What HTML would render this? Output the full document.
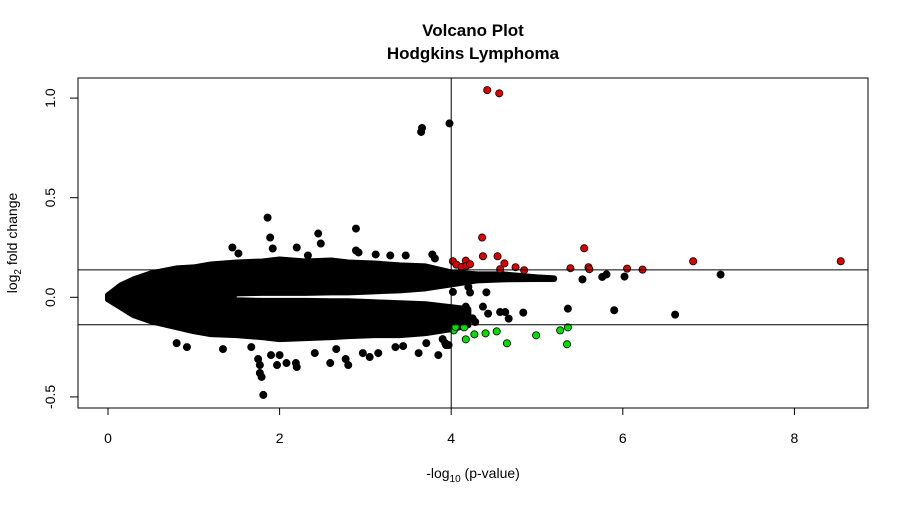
<!DOCTYPE html>
<html><head><meta charset="utf-8"><style>
html,body{margin:0;padding:0;background:#fff;}
svg{display:block;font-family:"Liberation Sans",Arial,sans-serif;}
</style></head><body>
<svg id="chart" width="910" height="506" viewBox="0 0 910 506">
<text x="473" y="36" text-anchor="middle" font-weight="bold" font-size="17">Volcano Plot</text>
<text x="473" y="59" text-anchor="middle" font-weight="bold" font-size="17">Hodgkins Lymphoma</text>
<rect x="78" y="78" width="790" height="330" fill="none" stroke="#000" stroke-width="1"/>
<g id="bands"></g>
<g id="pts"></g>
<g id="refs"></g>
<g id="xaxis"></g>
<g id="yaxis"></g>
<text x="473" y="478" text-anchor="middle" font-size="14">-log<tspan font-size="10" dy="4">10</tspan><tspan dy="-4"> (p-value)</tspan></text>
<text transform="translate(17,243) rotate(-90)" text-anchor="middle" font-size="14">log<tspan font-size="10" dy="4">2</tspan><tspan dy="-4"> fold change</tspan></text>
</svg>
<script>
// dense cloud envelopes
const upperX = [0,0.15,0.3,0.5,0.8,1.0,1.2,1.5,1.8,2.0,2.3,2.6,2.8,3.1,3.4,3.7,4.0,4.3,4.6,5.0,5.2];
const upperTop = [0.01,0.06,0.09,0.12,0.145,0.15,0.165,0.175,0.18,0.19,0.18,0.185,0.175,0.17,0.16,0.155,0.125,0.115,0.115,0.1,0.095];
const upperBot = [-0.01,-0.04,-0.05,-0.07,-0.08,-0.07,-0.05,0.02,0.022,0.022,0.022,0.025,0.025,0.03,0.035,0.045,0.065,0.085,0.09,0.092,0.092];
const lowerX = [0,0.15,0.3,0.5,0.8,1.0,1.2,1.5,1.8,2.0,2.3,2.6,2.8,3.1,3.4,3.7,4.0,4.2];
const lowerTop = [0.01,0.03,0.04,0.05,0.06,0.05,0.03,-0.015,-0.018,-0.018,-0.018,-0.02,-0.02,-0.025,-0.03,-0.035,-0.05,-0.06];
const lowerBot = [-0.01,-0.05,-0.09,-0.12,-0.15,-0.17,-0.185,-0.19,-0.2,-0.21,-0.205,-0.2,-0.195,-0.19,-0.19,-0.18,-0.16,-0.14];
// individual points
const blackX = [1.86,1.89,1.92,2.45,2.48,2.89,1.45,1.52,2.2,2.89,2.92,3.12,3.29,3.47,3.78,3.81,2.33,
 1.81,1.75,1.77,1.77,1.79,1.97,2.08,2.19,2.2,2.0,1.9,2.41,2.59,2.77,2.8,2.66,2.97,3.05,3.15,3.62,3.85,3.71,0.8,0.92,1.34,1.67,3.35,3.44,3.94,3.97,
 3.98,3.66,3.65,5.53,5.76,5.81,6.02,7.14,5.36,5.9,6.61,4.17,4.37,4.43,4.57,4.63,4.67,4.84,4.41,4.2,4.22,4.02,4.14,4.25,4.28,3.9,3.93];
const blackY = [0.40,0.30,0.245,0.32,0.27,0.345,0.25,0.22,0.25,0.235,0.225,0.215,0.21,0.21,0.215,0.195,0.21,
 -0.49,-0.31,-0.34,-0.38,-0.40,-0.34,-0.33,-0.33,-0.35,-0.29,-0.29,-0.28,-0.33,-0.31,-0.34,-0.26,-0.28,-0.30,-0.28,-0.28,-0.29,-0.23,-0.23,-0.25,-0.26,-0.25,-0.25,-0.245,-0.24,-0.24,
 0.873,0.85,0.83,0.09,0.102,0.115,0.104,0.114,-0.057,-0.065,-0.087,-0.047,-0.047,-0.082,-0.074,-0.074,-0.107,-0.077,0.025,0.052,0.024,0.027,-0.106,-0.106,-0.124,-0.21,-0.23];
const redX = [4.42,4.56,4.36,4.37,4.54,4.02,4.06,4.12,4.17,4.18,4.22,4.62,4.57,4.75,4.85,5.39,5.55,5.6,5.61,6.05,6.23,6.82,8.54];
const redY = [1.04,1.024,0.30,0.206,0.206,0.181,0.164,0.152,0.184,0.159,0.166,0.17,0.141,0.151,0.136,0.146,0.246,0.151,0.141,0.144,0.139,0.181,0.181];
const greenX = [4.03,4.05,4.15,4.17,4.27,4.4,4.53,4.65,4.99,5.27,5.36,5.35];
const greenY = [-0.166,-0.149,-0.151,-0.211,-0.186,-0.181,-0.171,-0.231,-0.191,-0.166,-0.151,-0.236];
const xTicks = [0,2,4,6,8];
const yTicks = [-0.5,0,0.5,1.0];
const yTickLabels = ["-0.5","0.0","0.5","1.0"];
const fcThreshold = 0.1375;
const pThreshold = 4;

const sx = v => 108 + v*85.8;
const sy = v => 297.3 - v*199.2;
const NS = "http://www.w3.org/2000/svg";
function mk(tag, parent){const e=document.createElementNS(NS,tag);document.getElementById(parent).appendChild(e);return e;}

function band(xs, top, bot){
  let d = xs.map((x,i)=>(i?'L':'M')+sx(x)+','+sy(top[i])).join(' ');
  for(let i=xs.length-1;i>=0;i--) d += ' L'+sx(xs[i])+','+sy(bot[i]);
  return d+' Z';
}
const ub = mk('path','bands');


ub.setAttribute('d', band(upperX, upperTop, upperBot));
ub.setAttribute('fill','#000'); ub.setAttribute('stroke','#000'); ub.setAttribute('stroke-width','6'); ub.setAttribute('stroke-linejoin','round');
const lb = mk('path','bands');


lb.setAttribute('d', band(lowerX, lowerTop, lowerBot));
lb.setAttribute('fill','#000'); lb.setAttribute('stroke','#000'); lb.setAttribute('stroke-width','6'); lb.setAttribute('stroke-linejoin','round');

function pts(xs, ys, fill, stroke, name){
  xs.forEach((x,i)=>{
    const c = mk('circle','pts');
    
    
    c.setAttribute('cx', sx(x)); c.setAttribute('cy', sy(ys[i])); c.setAttribute('r', 3.6);
    c.setAttribute('fill', fill); c.setAttribute('stroke', stroke); c.setAttribute('stroke-width', '0.8');
  });
}
pts(blackX, blackY, '#000', '#000', 'gene-point');
pts(redX, redY, '#e00000', '#000', 'upregulated-point');
pts(greenX, greenY, '#00e000', '#000', 'downregulated-point');

function line(g,x1,y1,x2,y2,name){
  const l = mk('line',g);
  
  
  l.setAttribute('x1',x1);l.setAttribute('y1',y1);l.setAttribute('x2',x2);l.setAttribute('y2',y2);
  l.setAttribute('stroke','#000');l.setAttribute('stroke-width','1');
}
line('refs',78,sy(fcThreshold),868,sy(fcThreshold),'upper-fc-threshold');
line('refs',78,sy(-fcThreshold),868,sy(-fcThreshold),'lower-fc-threshold');
line('refs',sx(pThreshold),78,sx(pThreshold),408,'p-value-threshold');

line('xaxis',sx(xTicks[0]),408,sx(xTicks[xTicks.length-1]),408,'x-axis-line');
xTicks.forEach(t=>{
  line('xaxis',sx(t),408,sx(t),415,'x-tick');
  const tx = mk('text','xaxis');
  
  
  tx.setAttribute('x',sx(t)); tx.setAttribute('y',443); tx.setAttribute('text-anchor','middle'); tx.setAttribute('font-size','14');
  tx.textContent = t;
});
line('yaxis',78,sy(yTicks[0]),78,sy(yTicks[yTicks.length-1]),'y-axis-line');
yTicks.forEach((t,i)=>{
  line('yaxis',70,sy(t),78,sy(t),'y-tick');
  const tx = mk('text','yaxis');
  
  
  tx.setAttribute('transform','translate(55,'+sy(t)+') rotate(-90)');
  tx.setAttribute('text-anchor','middle'); tx.setAttribute('font-size','14');
  tx.textContent = yTickLabels[i];
});
</script>
</body></html>
